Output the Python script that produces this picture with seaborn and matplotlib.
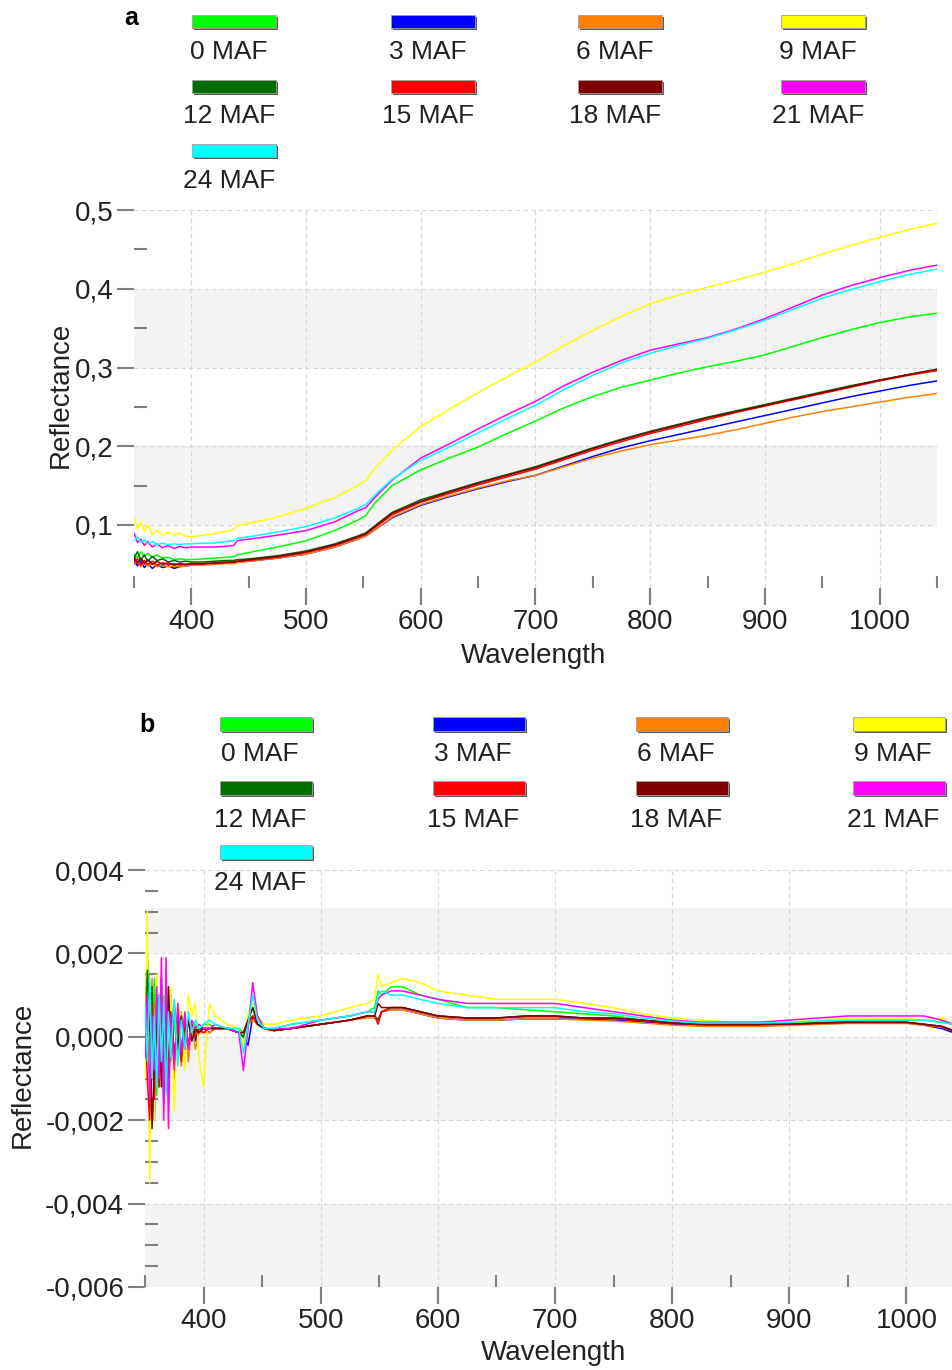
import matplotlib
matplotlib.use("Agg")
import matplotlib.pyplot as plt
from matplotlib.patches import Rectangle
from matplotlib.ticker import MultipleLocator, FuncFormatter
import numpy as np
import pandas as pd
import seaborn as sns

# Stages (months after flowering) and their colours
stages = ["0 MAF", "3 MAF", "6 MAF", "9 MAF", "12 MAF", "15 MAF", "18 MAF", "21 MAF", "24 MAF"]
stage_colors = ["#00ff00", "#0000ff", "#ff8000", "#ffff00", "#006e00",
                "#ff0000", "#800000", "#ff00ff", "#00ffff"]

# Panel a: reflectance spectra
wl_a = [350, 353, 356, 359, 362, 366, 370, 375, 380, 385,
        390, 395, 400, 410, 420, 430, 437, 440, 450, 475,
        500, 525, 545, 552, 560, 575, 600, 625, 650, 675,
        700, 725, 750, 775, 800, 825, 850, 875, 900, 925,
        950, 975, 1000, 1025, 1050]

refl_0 = [0.063, 0.058, 0.066, 0.060, 0.064, 0.059, 0.062, 0.058, 0.059, 0.056,
          0.057, 0.056, 0.056, 0.057, 0.058, 0.059, 0.060, 0.062, 0.065, 0.072,
          0.080, 0.093, 0.106, 0.112, 0.128, 0.150, 0.170, 0.185, 0.199, 0.216,
          0.232, 0.249, 0.263, 0.275, 0.284, 0.293, 0.301, 0.308, 0.316, 0.327,
          0.338, 0.348, 0.357, 0.364, 0.369]
refl_3 = [0.056, 0.048, 0.054, 0.046, 0.051, 0.045, 0.049, 0.046, 0.048, 0.045,
          0.047, 0.048, 0.049, 0.050, 0.051, 0.052, 0.052, 0.053, 0.054, 0.058,
          0.063, 0.072, 0.082, 0.086, 0.094, 0.109, 0.125, 0.136, 0.146, 0.155,
          0.163, 0.175, 0.187, 0.198, 0.207, 0.215, 0.223, 0.231, 0.239, 0.247,
          0.255, 0.263, 0.270, 0.277, 0.283]
refl_6 = [0.050, 0.054, 0.047, 0.052, 0.048, 0.051, 0.047, 0.049, 0.047, 0.048,
          0.047, 0.048, 0.049, 0.049, 0.050, 0.051, 0.051, 0.052, 0.054, 0.058,
          0.063, 0.072, 0.082, 0.086, 0.094, 0.110, 0.126, 0.137, 0.147, 0.156,
          0.163, 0.174, 0.185, 0.194, 0.202, 0.208, 0.214, 0.221, 0.229, 0.237,
          0.244, 0.250, 0.256, 0.262, 0.267]
refl_9 = [0.110, 0.095, 0.104, 0.092, 0.100, 0.088, 0.093, 0.087, 0.091, 0.087,
          0.090, 0.086, 0.085, 0.087, 0.089, 0.092, 0.094, 0.099, 0.102, 0.110,
          0.121, 0.135, 0.150, 0.156, 0.172, 0.195, 0.225, 0.247, 0.268, 0.288,
          0.307, 0.328, 0.347, 0.365, 0.381, 0.392, 0.402, 0.411, 0.421, 0.432,
          0.444, 0.455, 0.465, 0.475, 0.483]
refl_12 = [0.058, 0.066, 0.055, 0.062, 0.054, 0.060, 0.055, 0.057, 0.053, 0.055,
           0.053, 0.054, 0.053, 0.053, 0.054, 0.055, 0.055, 0.056, 0.057, 0.061,
           0.067, 0.076, 0.086, 0.090, 0.099, 0.116, 0.132, 0.143, 0.154, 0.164,
           0.174, 0.186, 0.198, 0.209, 0.219, 0.228, 0.237, 0.245, 0.253, 0.261,
           0.269, 0.277, 0.284, 0.291, 0.297]
refl_15 = [0.052, 0.057, 0.049, 0.055, 0.050, 0.054, 0.049, 0.052, 0.050, 0.051,
           0.049, 0.050, 0.050, 0.051, 0.051, 0.052, 0.053, 0.054, 0.055, 0.059,
           0.065, 0.074, 0.084, 0.088, 0.097, 0.113, 0.129, 0.140, 0.151, 0.161,
           0.171, 0.183, 0.195, 0.206, 0.216, 0.225, 0.234, 0.243, 0.251, 0.259,
           0.267, 0.275, 0.283, 0.290, 0.296]
refl_18 = [0.060, 0.052, 0.058, 0.051, 0.056, 0.050, 0.054, 0.050, 0.052, 0.049,
           0.051, 0.050, 0.051, 0.051, 0.052, 0.053, 0.053, 0.054, 0.056, 0.060,
           0.066, 0.075, 0.085, 0.089, 0.098, 0.115, 0.130, 0.142, 0.153, 0.163,
           0.173, 0.185, 0.197, 0.208, 0.218, 0.227, 0.236, 0.244, 0.252, 0.260,
           0.268, 0.276, 0.284, 0.291, 0.298]
refl_21 = [0.090, 0.078, 0.082, 0.074, 0.079, 0.072, 0.076, 0.071, 0.074, 0.070,
           0.073, 0.071, 0.072, 0.072, 0.072, 0.073, 0.074, 0.080, 0.082, 0.087,
           0.093, 0.104, 0.118, 0.122, 0.135, 0.157, 0.185, 0.203, 0.222, 0.240,
           0.257, 0.277, 0.294, 0.309, 0.322, 0.330, 0.338, 0.349, 0.362, 0.377,
           0.392, 0.404, 0.414, 0.423, 0.430]
refl_24 = [0.080, 0.085, 0.078, 0.081, 0.076, 0.079, 0.075, 0.077, 0.075, 0.076,
           0.075, 0.076, 0.076, 0.077, 0.077, 0.079, 0.080, 0.083, 0.085, 0.091,
           0.098, 0.109, 0.121, 0.126, 0.138, 0.158, 0.182, 0.199, 0.217, 0.235,
           0.252, 0.272, 0.290, 0.306, 0.318, 0.328, 0.337, 0.348, 0.360, 0.374,
           0.388, 0.399, 0.409, 0.418, 0.425]

# Panel b: first derivative of reflectance, in units of 1e-4
wl_b = [350, 352, 354, 356, 358, 360, 362, 364, 366, 368,
        370, 372, 375, 378, 381, 384, 387, 390, 393, 396,
        400, 405, 410, 420, 430, 434, 438, 442, 446, 452,
        460, 475, 500, 525, 540, 546, 549, 552, 560, 570,
        585, 600, 625, 650, 675, 700, 725, 750, 775, 800,
        825, 850, 875, 900, 925, 950, 975, 1000, 1015, 1030,
        1040, 1050]

deriv_0 = [5, 20, 12, -5, 14, -14, 8, -4, 10, -8,
           12, -6, 4, -5, 6, -2, 5, 0, 3, 1,
           3, 3, 2, 2, 2, 1, 4, 7, 4, 2,
           2, 3, 4, 5, 6, 7, 11, 10, 12, 12,
           10, 9, 7, 7, 6.5, 6, 5.5, 5, 4, 3.5,
           3.2, 3.2, 3.2, 3.5, 3.5, 3.8, 4, 4, 4, 3.5,
           3, 3]
deriv_3 = [-6, 12, -22, 10, -20, 12, -10, 14, -12, 8,
           -10, 10, -6, 6, -4, 5, -3, 3, -1, 2,
           2, 1, 2, 2, 1, 0, -2, 5, 3, 2,
           1.5, 2, 3, 4, 5, 5, 4, 6, 6.5, 6.5,
           5.5, 4.5, 4, 4, 4.3, 4.3, 4.2, 4, 3.6, 3,
           2.8, 2.8, 2.8, 2.9, 3.1, 3.3, 3.3, 3.3, 2.8, 2,
           1, 1.5]
deriv_6 = [2, 18, -10, 14, -6, 12, -8, 4, -6, 10,
           -12, 5, -10, 6, -7, 4, -6, 3, -3, 1,
           1, 1, 2, 2, 1, 1, 3, 4, 3, 2,
           1.5, 2, 3, 4, 4.5, 4.5, 4, 6, 6.5, 6.5,
           5.5, 4.5, 4, 4, 4.3, 4.3, 4, 3.8, 3.3, 2.8,
           2.5, 2.5, 2.5, 2.7, 3, 3.2, 3.2, 3.2, 2.8, 2.3,
           1.5, 2]
deriv_9 = [-10, 30, -35, 10, -20, 15, -12, 12, -15, 10,
           -10, 12, -18, 8, 5, -8, 10, 5, 8, -5,
           -12, 8, 5, 3, 2, -2, 6, 8, 5, 3,
           3, 4, 5, 7, 8, 9, 15, 12, 13, 14,
           13, 11, 10, 9, 9, 9, 8, 7, 5.5, 4.5,
           4, 3.5, 3.5, 3.5, 4, 4.5, 4.5, 4.5, 4, 4.5,
           3, 3]
deriv_12 = [-3, 16, 5, 12, -8, 10, -12, 6, -16, 4,
            -10, 3, -6, 5, -4, 3, -2, 2, 1, 2,
            2, 2, 2, 2, 1, 0, 4, 5, 3, 2,
            1.5, 2, 3, 4, 5, 5, 4, 6, 7, 7,
            6, 5, 4.5, 4.5, 5, 5, 4.5, 4.5, 4, 3.3,
            3, 3, 3, 3, 3.3, 3.5, 3.5, 3.5, 3, 2.5,
            1.5, 2]
deriv_15 = [4, -10, -20, 8, -15, 6, -12, 7, -10, 5,
            -8, 6, -4, 3, -6, 4, -2, 3, 0, 2,
            1, 2, 2, 2, 1, 1, 3, 5, 3, 2,
            1.5, 2, 3, 4, 5, 5, 3, 6, 7, 7,
            6, 5, 4.5, 4.5, 4.8, 4.8, 4.5, 4.3, 3.8, 3.2,
            3, 3, 3, 3, 3.2, 3.4, 3.4, 3.4, 3, 2.5,
            1.5, 2]
deriv_18 = [0, -5, 8, -22, -8, 5, 10, -12, 6, -9,
            12, -4, 8, -3, 5, -3, 4, -1, 2, 1,
            2, 2, 2, 2, 1, 1, 4, 7, 3, 2,
            1.5, 2, 3, 4, 5, 5, 8, 7, 7, 7,
            6, 5, 4.5, 4.5, 5, 5, 4.5, 4.5, 4, 3.3,
            3, 3, 3, 3, 3.3, 3.5, 3.5, 3.5, 3, 2.5,
            1.5, 2]
deriv_21 = [-5, 10, -15, 5, -8, 12, -10, 19, -20, 19,
            -22, 5, -8, 8, -4, 6, -3, 4, 2, 3,
            2, 2, 3, 2, 1, -8, 2, 13, 5, 2,
            2, 2, 4, 5, 6, 6, 9, 10, 11, 11,
            10, 9, 8, 8, 8, 8, 7, 6, 5, 4,
            3.5, 3.5, 3.5, 4, 4.5, 5, 5, 5, 5, 4,
            3, 3]
deriv_24 = [8, -6, 14, -10, 5, -12, 10, -6, 8, -14,
            6, -5, 9, -7, 4, -3, 6, 1, 4, 2,
            3, 4, 3, 2, 2, -4, 3, 10, 4, 2,
            2, 3, 4, 5, 6, 6, 10, 11, 10, 10,
            9, 8, 7, 7, 7, 7, 6, 5.5, 4.5, 3.8,
            3.3, 3.3, 3.3, 3.5, 3.8, 4, 4, 4, 4, 3.5,
            3, 3]

refl_a = [refl_0, refl_3, refl_6, refl_9, refl_12, refl_15, refl_18, refl_21, refl_24]
deriv_b = [deriv_0, deriv_3, deriv_6, deriv_9, deriv_12, deriv_15, deriv_18, deriv_21, deriv_24]

W, H = 953, 1370
TEXT = "#222222"
TICK = "#808080"


def long_table(wl, series, scale=1.0):
    # Build a long-form table for seaborn
    frames = []
    for stage, values in zip(stages, series):
        frames.append(pd.DataFrame({"Wavelength": wl,
                                    "Reflectance": np.array(values, dtype=float) * scale,
                                    "Stage": stage}))
    return pd.concat(frames, ignore_index=True)


def comma_fmt(decimals):
    def fmt(v, pos):
        v = round(v, decimals + 2)
        if abs(v) < 1e-12:
            v = 0.0
        return f"{v:.{decimals}f}".replace(".", ",")
    return FuncFormatter(fmt)


def add_axes_px(fig, left, top, right, bottom):
    return fig.add_axes([left / W, 1 - bottom / H, (right - left) / W, (bottom - top) / H])


def style_axes(ax, ylim, ymajor, yminor, decimals, bands, ylab_xy, xlab_xy, height_px):
    ax.set_xlim(350, 1050)
    ax.set_ylim(*ylim)
    for lo, hi in bands:
        ax.axhspan(lo, hi, color="#f3f3f3", lw=0, zorder=0)
    ax.xaxis.set_major_locator(MultipleLocator(100))
    ax.xaxis.set_minor_locator(MultipleLocator(50))
    ax.yaxis.set_major_locator(MultipleLocator(ymajor))
    ax.yaxis.set_minor_locator(MultipleLocator(yminor))
    ax.yaxis.set_major_formatter(comma_fmt(decimals))
    ax.grid(True, which="major", color="#d6d6d6", ls=(0, (4, 3)), lw=0.8)
    for s in ax.spines.values():
        s.set_visible(False)
    ax.set_xlabel("Wavelength", fontsize=20, color=TEXT)
    ax.set_ylabel("Reflectance", fontsize=20, color=TEXT)
    ax.yaxis.set_label_coords(*ylab_xy)
    ax.xaxis.set_label_coords(*xlab_xy)
    # seaborn's white style hides ticks, switch them back on
    for axis in (ax.xaxis, ax.yaxis):
        axis.set_tick_params(which="major", direction="out", length=12, width=1.5,
                             color=TICK, labelsize=20, labelcolor=TEXT, pad=3)
        axis.set_tick_params(which="minor", direction="in", length=9, width=1.5,
                             color=TICK)
    ax.xaxis.set_tick_params(which="both", bottom=True, top=False)
    ax.yaxis.set_tick_params(which="both", left=True, right=False)
    # the long x ticks hanging below the plot, drawn at the locator's positions
    major_x = [v for v in ax.get_xticks() if 350 <= v <= 1050]
    ax.vlines(major_x, -17 / height_px, 0, transform=ax.get_xaxis_transform(),
              colors=TICK, lw=1.5, clip_on=False, zorder=3)


def draw_legend(fig, col_centers, patch_tops, text_ys, pw, ph, text_dx):
    for i, (stage, color) in enumerate(zip(stages, stage_colors)):
        row, col = divmod(i, 4)
        cx = col_centers[col]
        x0 = cx - pw / 2
        y0 = patch_tops[row]
        # shadow, then coloured swatch
        fig.add_artist(Rectangle(((x0 + 2) / W, 1 - (y0 + ph + 2) / H), pw / W, ph / H,
                                 transform=fig.transFigure, facecolor="#5a5a5a", edgecolor="none"))
        fig.add_artist(Rectangle((x0 / W, 1 - (y0 + ph) / H), pw / W, ph / H,
                                 transform=fig.transFigure, facecolor=color,
                                 edgecolor="#a0a0a0", lw=0.6))
        fig.text((cx + text_dx) / W, 1 - text_ys[row] / H, stage, fontsize=19,
                 color=TEXT, ha="center", va="center")


sns.set_style("white")
plt.rcParams["font.family"] = ["Liberation Sans", "DejaVu Sans"]

fig = plt.figure(figsize=(W / 100, H / 100), dpi=100)
palette = dict(zip(stages, stage_colors))

# Panel a
ax_a = add_axes_px(fig, 134, 210, 937, 588)
df_a = long_table(wl_a, refl_a)
sns.lineplot(data=df_a, x="Wavelength", y="Reflectance", hue="Stage", hue_order=stages,
             palette=palette, estimator=None, legend=False, lw=1.1, ax=ax_a)
style_axes(ax_a, (0.02, 0.5), 0.1, 0.05, 1, [(0.1, 0.2), (0.3, 0.4)],
           (-0.075, 0.51), (0.497, -0.146), 378)

# Panel b
ax_b = add_axes_px(fig, 145, 870, 965, 1287)
df_b = long_table(wl_b, deriv_b, scale=1e-4)
sns.lineplot(data=df_b, x="Wavelength", y="Reflectance", hue="Stage", hue_order=stages,
             palette=palette, estimator=None, legend=False, lw=1.1, ax=ax_b)
style_axes(ax_b, (-0.006, 0.004), 0.002, 0.0005, 3,
           [(-0.006, -0.004), (-0.002, 0.0), (0.002, 0.0031)],
           (-0.133, 0.508), (0.4976, -0.127), 417)

# Legends
draw_legend(fig, [234, 433, 620, 823], [15, 80, 144], [52, 116, 181], 84, 13, -5)
draw_legend(fig, [266, 479, 682, 899], [717, 781, 845], [754, 820, 883], 92, 14, -6)

# Panel letters
fig.text(131 / W, 1 - 18 / H, "a", fontsize=18, fontweight="bold", color="black",
         ha="center", va="center")
fig.text(147 / W, 1 - 725 / H, "b", fontsize=18, fontweight="bold", color="black",
         ha="center", va="center")

fig.savefig("out.png", dpi=100)
